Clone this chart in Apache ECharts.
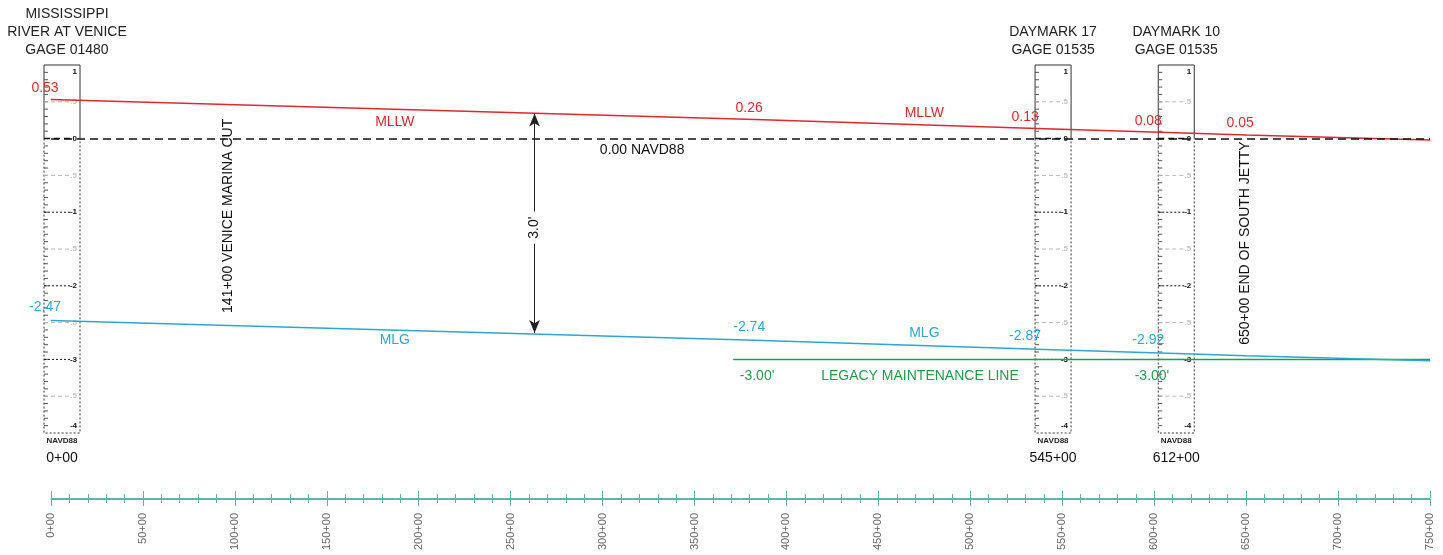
<!DOCTYPE html>
<html>
<head>
<meta charset="utf-8">
<title>MLLW / MLG profile</title>
<script src="https://cdn.jsdelivr.net/npm/echarts@6/dist/echarts.min.js"></script>
<style>
  html, body { margin: 0; padding: 0; background: #fff; }
  #chart { width: 1443px; height: 555px; }
</style>
</head>
<body>
<div id="chart"></div>
<script>
// stations are in x+00 (hundreds of feet), elevations in ft NAVD88
const stations = [0, 383, 545, 612, 650, 750];
const mllw = [0.53, 0.26, 0.13, 0.08, 0.05, -0.02];
const mlg = [-2.47, -2.74, -2.87, -2.92, -2.95, -3.02];
// points that carry a value label
const mllwLabelled = [0, 383, 545, 612, 650];
const mlgLabelled = [0, 383, 545, 612];

const legacyStations = [371, 750];
const legacyElev = [-3, -3];

const gaugeStations = [0, 545, 612];
const gaugeTitles = [
  ['MISSISSIPPI', 'RIVER AT VENICE', 'GAGE 01480'],
  ['DAYMARK 17', 'GAGE 01535'],
  ['DAYMARK 10', 'GAGE 01535']
];
const gaugeTop = 1;
const gaugeBottom = -4;

const stationMin = 0;
const stationMax = 750;
const stationStep = 50;

const FONT = '"Liberation Sans", Arial, sans-serif';
const RED = '#e0282e';
const BLUE = '#2ea6d4';
const GREEN = '#1f9e4c';
const TEAL = '#62b0b0';

const chart = echarts.init(document.getElementById('chart'));

// value labels sit a little left of the gauge boards
function nudge(s) {
  return gaugeStations.includes(s) && s > 0 ? -28 : -6;
}

function lineData(values, labelled, dist) {
  return stations.map((s, i) => ({
    value: [s, values[i]],
    label: { show: labelled.includes(s), offset: [nudge(s), 0], distance: dist }
  }));
}

// staff gauge board drawn at each gauge station
function renderGauge(params, api) {
  const st = api.value(0);
  const idx = params.dataIndex;
  const zeroY = api.coord([st, 0])[1];
  const topY = api.coord([st, gaugeTop])[1];
  const botY = api.coord([st, gaugeBottom])[1];
  const cx = Math.max(api.coord([st, 0])[0], params.coordSys.x + 11);
  const x0 = cx - 18;
  const x1 = cx + 18;
  const kids = [];

  kids.push({
    type: 'polyline',
    shape: { points: [[x0, zeroY], [x0, topY], [x1, topY], [x1, zeroY]] },
    style: { stroke: '#333', fill: null, lineWidth: 1 }
  });
  kids.push({
    type: 'polyline',
    shape: { points: [[x0, zeroY], [x0, botY], [x1, botY], [x1, zeroY]] },
    style: { stroke: '#333', fill: null, lineWidth: 1, lineDash: [2, 2] }
  });

  const steps = Math.round((gaugeTop - gaugeBottom) * 10);
  for (let k = 0; k <= steps; k++) {
    const v = +(gaugeTop - k / 10).toFixed(1);
    const y = api.coord([st, v])[1];
    if (k > 0 && k < steps) {
      kids.push({
        type: 'line',
        shape: { x1: x0, y1: y, x2: x0 + 4, y2: y },
        style: { stroke: '#555', lineWidth: 1 }
      });
    }
    if (k % 5 !== 0) continue;
    const whole = k % 10 === 0;
    if (k > 0 && k < steps) {
      kids.push({
        type: 'line',
        shape: { x1: x0, y1: y, x2: x1 - 8, y2: y },
        style: whole
          ? { stroke: '#111', lineWidth: v === 0 ? 1.5 : 1, lineDash: v === 0 ? [6, 4] : [2, 2] }
          : { stroke: '#b8b8b8', lineWidth: 1, lineDash: [4, 3] }
      });
    }
    kids.push({
      type: 'text',
      style: {
        x: x1 - 3,
        y: k === 0 ? y + 7 : (k === steps ? y - 7 : y),
        text: whole ? String(v) : '.5',
        fill: whole ? '#111' : '#c4c4c4',
        font: 'bold 8px ' + FONT,
        align: 'right',
        verticalAlign: 'middle'
      }
    });
  }

  const lines = gaugeTitles[idx];
  const hx = Math.max(cx, params.coordSys.x + 16);
  lines.forEach((t, j) => {
    kids.push({
      type: 'text',
      style: {
        x: hx,
        y: topY - 15 - (lines.length - 1 - j) * 18,
        text: t,
        fill: '#222',
        font: '14px ' + FONT,
        align: 'center',
        verticalAlign: 'middle'
      }
    });
  });
  kids.push({
    type: 'text',
    style: {
      x: cx, y: botY + 8, text: 'NAVD88', fill: '#222',
      font: 'bold 8px ' + FONT, align: 'center', verticalAlign: 'middle'
    }
  });
  kids.push({
    type: 'text',
    style: {
      x: cx, y: botY + 25, text: st + '+00', fill: '#111',
      font: '14px ' + FONT, align: 'center', verticalAlign: 'middle'
    }
  });
  return { type: 'group', children: kids };
}

function note(coord, text, color, rotate, boxed) {
  return {
    coord: coord,
    symbol: 'circle',
    symbolSize: 1,
    itemStyle: { color: 'rgba(0,0,0,0)' },
    label: {
      show: true, position: 'inside', formatter: text, color: color,
      fontSize: 14, fontFamily: FONT, rotate: rotate || 0,
      backgroundColor: boxed ? '#fff' : 'transparent',
      padding: boxed ? [1, 5] : 0
    }
  };
}

const option = {
  animation: false,
  backgroundColor: '#fff',
  grid: [
    { left: 51, right: 13, top: 65, bottom: 122 },
    { left: 51, right: 13, top: 498, height: 1 }
  ],
  xAxis: [
    { gridIndex: 0, type: 'value', min: stationMin, max: stationMax, show: false },
    {
      gridIndex: 1, type: 'value', position: 'bottom',
      min: stationMin, max: stationMax, interval: stationStep,
      axisLine: { lineStyle: { color: TEAL, width: 1 } },
      axisTick: { length: 7, lineStyle: { color: TEAL } },
      minorTick: { show: true, splitNumber: 5, length: 4, lineStyle: { color: TEAL } },
      axisLabel: {
        rotate: 90, margin: 14, color: '#666', fontSize: 11, fontFamily: FONT,
        formatter: v => v + '+00'
      },
      splitLine: { show: false },
      minorSplitLine: { show: false }
    },
    {
      gridIndex: 1, type: 'value', position: 'top',
      min: stationMin, max: stationMax, interval: stationStep,
      axisLine: { lineStyle: { color: TEAL, width: 1 } },
      axisTick: { length: 7, lineStyle: { color: TEAL } },
      minorTick: { show: true, splitNumber: 5, length: 4, lineStyle: { color: TEAL } },
      axisLabel: { show: false },
      splitLine: { show: false },
      minorSplitLine: { show: false }
    }
  ],
  yAxis: [
    { gridIndex: 0, type: 'value', min: gaugeBottom, max: gaugeTop, show: false },
    { gridIndex: 1, type: 'value', show: false }
  ],
  series: [
    {
      name: 'gauges',
      type: 'custom',
      xAxisIndex: 0,
      yAxisIndex: 0,
      z: 1,
      renderItem: renderGauge,
      data: gaugeStations.map(s => [s])
    },
    {
      name: 'MLLW',
      type: 'line',
      z: 3,
      data: lineData(mllw, mllwLabelled, 4),
      symbol: 'circle',
      symbolSize: 1,
      itemStyle: { color: RED },
      lineStyle: { color: RED, width: 1.5 },
      label: {
        position: 'top', color: RED, fontSize: 14, fontFamily: FONT,
        formatter: p => p.value[1].toFixed(2)
      },
      markLine: {
        silent: true,
        symbol: ['none', 'none'],
        label: { show: false },
        lineStyle: { color: '#111', width: 1.5, type: [8, 5] },
        data: [{ yAxis: 0 }]
      },
      markPoint: {
        data: [
          note([187, 0.23], 'MLLW', RED),
          note([475, 0.35], 'MLLW', RED),
          note([321.5, -0.16], '0.00 NAVD88', '#111'),
          note([96.3, -1.05], '141+00 VENICE MARINA CUT', '#111', 90),
          note([649.4, -1.42], '650+00 END OF SOUTH JETTY', '#111', 90)
        ]
      }
    },
    {
      name: 'MLG',
      type: 'line',
      z: 3,
      data: lineData(mlg, mlgLabelled, 6),
      symbol: 'circle',
      symbolSize: 1,
      itemStyle: { color: BLUE },
      lineStyle: { color: BLUE, width: 1.5 },
      label: {
        position: 'top', color: BLUE, fontSize: 14, fontFamily: FONT,
        formatter: p => p.value[1].toFixed(2)
      },
      markLine: {
        silent: true,
        symbol: ['arrow', 'arrow'],
        symbolSize: [8, 13],
        lineStyle: { color: '#222', width: 1, type: 'solid' },
        label: { show: false },
        data: [[{ coord: [263, 0.34] }, { coord: [263, -2.64] }]]
      },
      markPoint: {
        z: 5,
        data: [
          note([187, -2.74], 'MLG', BLUE),
          note([475, -2.64], 'MLG', BLUE),
          note([263, -1.21], "3.0'", '#111', 90, true)
        ]
      }
    },
    {
      name: 'Legacy maintenance line',
      type: 'line',
      z: 2,
      data: legacyStations.map((s, i) => [s, legacyElev[i]]),
      symbol: 'none',
      lineStyle: { color: GREEN, width: 1.5 },
      markPoint: {
        data: [
          note([384, -3.23], "-3.00'", GREEN),
          note([472.6, -3.23], 'LEGACY MAINTENANCE LINE', GREEN),
          note([598.8, -3.23], "-3.00'", GREEN)
        ]
      }
    }
  ]
};

chart.setOption(option);
window.addEventListener('resize', () => chart.resize());
</script>
</body>
</html>
